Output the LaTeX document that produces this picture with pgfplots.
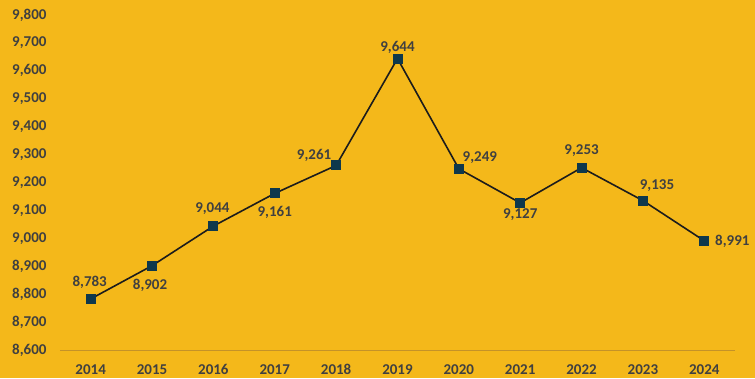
\documentclass[border=0pt]{standalone}
\usepackage{pgfplots}
\pgfplotsset{compat=1.18}
\usepackage{fontspec}
\setmainfont{Carlito}
\definecolor{bg}{RGB}{244,184,26}
\definecolor{txt}{RGB}{64,64,64}
\definecolor{mk}{RGB}{14,56,76}
\definecolor{ln}{RGB}{28,28,28}
\definecolor{axl}{RGB}{196,146,40}
\begin{document}
\begin{tikzpicture}
\fill[bg] (-60pt,-28pt) rectangle (695pt,350pt);
\useasboundingbox (-60pt,-28pt) rectangle (695pt,350pt);
\begin{axis}[
  scale only axis,
  width=675pt, height=335pt,
  xmin=2013.5, xmax=2024.5,
  ymin=8600, ymax=9800,
  xtick={2014,...,2024},
  ytick={8600,8700,...,9800},
  axis line style={draw=none},
  major tick length=0pt,
  xticklabel style={/pgf/number format/1000 sep={}, yshift=-11pt},
  yticklabel style={/pgf/number format/1000 sep={,}, xshift=-10pt},
  /pgf/number format/assume math mode=true,
  tick label style={font=\fontsize{15}{17}\selectfont\bfseries, text=txt},
  clip=false,
  lbl/.style 2 args={draw=none, mark=none, nodes near coords={\pgfmathprintnumber[1000 sep={,},assume math mode=true]{\pgfplotspointmeta}},
    point meta=y,
    every node near coord/.append style={anchor=center, xshift=#1pt, yshift=#2pt, font=\fontsize{15}{17}\selectfont\bfseries, text=txt, inner sep=0pt}},
]
\draw[axl, line width=1pt] (axis cs:2013.5,8600) -- (axis cs:2024.5,8600);
\addplot[ln, line width=1.6pt, mark=square*, mark size=4.2pt,
  mark options={fill=mk, draw=mk}] coordinates {
(2014,8783) (2015,8902) (2016,9044) (2017,9161) (2018,9261) (2019,9644)
(2020,9249) (2021,9127) (2022,9253) (2023,9135) (2024,8991)};
\addplot[lbl={-1}{17}] coordinates {(2014,8783)};
\addplot[lbl={-2}{-20}] coordinates {(2015,8902)};
\addplot[lbl={-1}{17}] coordinates {(2016,9044)};
\addplot[lbl={0}{-19}] coordinates {(2017,9161)};
\addplot[lbl={-22}{10}] coordinates {(2018,9261)};
\addplot[lbl={0}{11}] coordinates {(2019,9644)};
\addplot[lbl={21}{11}] coordinates {(2020,9249)};
\addplot[lbl={0}{-12}] coordinates {(2021,9127)};
\addplot[lbl={0}{17}] coordinates {(2022,9253)};
\addplot[lbl={14}{15}] coordinates {(2023,9135)};
\addplot[lbl={28}{0}] coordinates {(2024,8991)};
\end{axis}
\end{tikzpicture}
\end{document}
